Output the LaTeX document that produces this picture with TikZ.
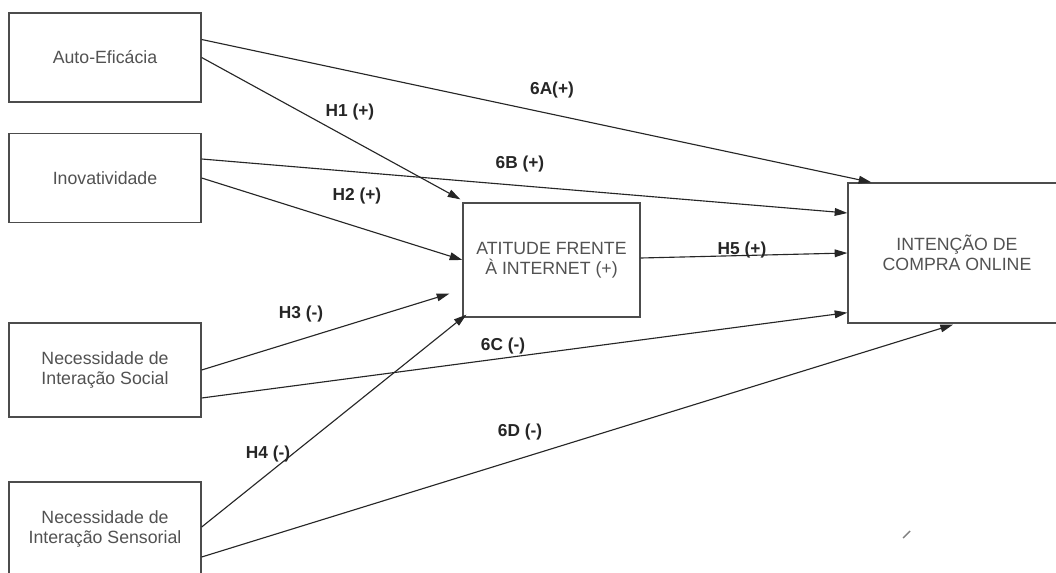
\documentclass[tikz,border=0pt]{standalone}
\usepackage{fontspec}
\setmainfont{Liberation Sans}
\usetikzlibrary{arrows.meta,calc}

\tikzset{
    construto/.style = {draw = black!70, line width = 0.9pt, rectangle, inner sep = 0pt,
        align = center, text = black!68, font = \fontsize{12.6}{14.5}\selectfont},
    hipotese/.style = {font = \fontsize{12.3}{14}\selectfont\bfseries, text = black!85, inner sep = 1pt},
    seta/.style = {draw = black!85, line width = 0.8pt, -{Triangle[length = 9pt, width = 5.5pt]}}
}

\begin{document}
\begin{tikzpicture}[x = 0.025cm, y = -0.025cm]
        \useasboundingbox (0,0) rectangle (1056,572);
        \clip (0,0) rectangle (1056,572);
        \fill[white] (0,0) rectangle (1056,572);

        % construtos
        \node[construto, minimum width = 4.8cm, minimum height = 2.225cm] (auto) at (105,57.5) {Auto-Eficácia};
        \node[construto, minimum width = 4.8cm, minimum height = 2.225cm] (inov) at (105,178) {Inovatividade};
        \node[construto, minimum width = 4.8cm, minimum height = 2.35cm] (soc) at (105,370) {Necessidade de\\Interação Social};
        \node[construto, minimum width = 4.8cm, minimum height = 2.35cm] (sen) at (105,529) {Necessidade de\\Interação Sensorial};
        \node[construto, minimum width = 4.425cm, minimum height = 2.85cm] (att) at (551.5,260) {ATITUDE FRENTE\\À INTERNET (+)};
        \node[construto, minimum width = 5.45cm, minimum height = 3.5cm] (int) at (957,253) {INTENÇÃO DE\\COMPRA ONLINE};

        % efeitos
        \draw[seta] ($(auto.east)+(0,-18)$) -- ($(int.north west)+(24,0)$);
        \draw[seta] (auto.east) -- ($(att.north west)+(-2,-3)$);
        \draw[seta] ($(inov.east)+(0,-19)$) -- ($(int.west)+(0,-40)$);
        \draw[seta] (inov.east) -- (att.west);
        \draw[seta] ($(att.east)+(0,-2)$) -- (int.west);
        \draw[seta] (soc.east) -- ($(att.south west)+(-13,-24)$);
        \draw[seta] ($(soc.east)+(0,28)$) -- ($(int.south west)+(0,-11)$);
        \draw[seta] ($(sen.east)+(0,-2)$) -- ($(att.south west)+(4,-3)$);
        \draw[seta] ($(sen.east)+(0,28)$) -- ($(int.south)+(-4,1)$);

        \begin{scope}[every node/.append style = {hipotese}]
            \node (l6a) at (552,90) {6A(+)};
            \node (lh1) at (350,112) {H1 (+)};
            \node (l6b) at (520,164) {6B (+)};
            \node (lh2) at (357,196) {H2 (+)};
            \node (lh5) at (742,250) {H5 (+)};
            \node (lh3) at (301,314) {H3 (-)};
            \node (l6c) at (503,346) {6C (-)};
            \node (lh4) at (268,454) {H4 (-)};
            \node (l6d) at (520,432) {6D (-)};
        \end{scope}

        \draw[black!50, line width = 1pt] (903,538) -- (910,531);
    \end{tikzpicture}
\end{document}
